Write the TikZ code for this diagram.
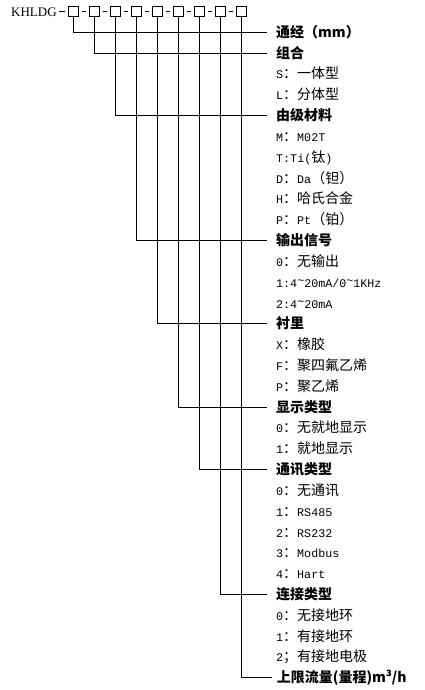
\documentclass[tikz,border=0pt]{standalone}
\usepackage{fontspec}
\setmainfont{Noto Sans CJK SC}
\newfontfamily\latmono{Liberation Mono}
\newfontfamily\latserif{Liberation Serif}
\newcommand{\lt}[1]{{\latmono\fontsize{11.7}{14}\selectfont #1}}
\newcommand{\tld}{\raisebox{3pt}{\textasciitilde}}
\begin{document}
\begin{tikzpicture}[x=1pt,y=-1pt,
  box/.style={draw, line width=0.9pt, minimum size=10pt, inner sep=0pt},
  wire/.style={line width=0.9pt},
  head/.style={anchor=west, inner xsep=9pt, inner ysep=0pt, text height=12pt, text depth=2pt, font=\fontsize{14}{16}\selectfont\bfseries},
  item/.style={anchor=west, inner xsep=0pt, inner ysep=0pt, text height=12pt, text depth=2pt, font=\fontsize{14}{16}\selectfont}]
\useasboundingbox (0,0) rectangle (425,690);

% code line
\node[anchor=base west, inner sep=0pt, font=\latserif\fontsize{13}{15}\selectfont] (k) at (11,17) {KHLDG};
\foreach \i in {1,...,9} \node[box] (b\i) at ({52.2+21*\i},11.7) {};
\draw[wire] ([xshift=2pt]k.east |- b1.west) -- ([xshift=-3pt]b1.west);
\foreach \i [evaluate=\i as \j using int(\i+1)] in {1,...,8}
  \draw[wire] ([xshift=3pt]b\i.east) -- ([xshift=-3pt]b\j.west);

% headers
\node[head] (h1) at (267,32.3) {通经（mm）};
\node[head] (h2) at (267,53.1) {组合};
\node[head] (h3) at (267,115.6) {由级材料};
\node[head] (h4) at (267,240.5) {输出信号};
\node[head] (h5) at (267,323.8) {衬里};
\node[head] (h6) at (267,407.1) {显示类型};
\node[head] (h7) at (267,469.5) {通讯类型};
\node[head] (h8) at (267,594.4) {连接类型};
\node[head, inner xsep=4.7pt] (h9) at (272,677.7) {上限流量(量程)m³/h};

\foreach \i in {1,...,9} \draw[wire] (b\i.south) |- (h\i.west);

% items
\node[item] (s1) at (276,73.9) {\lt{S}：一体型};
\node[item] (s2) at (276,94.8) {\lt{L}：分体型};
\node[item] (m1) at (276,136.4) {\lt{M}：\lt{M02T}};
\node[item] (m2) at (276,157.2) {\lt{T:Ti(}钛\lt{)}};
\node[item] (m3) at (276,178.0) {\lt{D}：\lt{Da}（钽）};
\node[item] (m4) at (276,198.9) {\lt{H}：哈氏合金};
\node[item] (m5) at (276,219.7) {\lt{P}：\lt{Pt}（铂）};
\node[item] (o1) at (276,261.3) {\lt{0}：无输出};
\node[item] (o2) at (276,282.1) {\lt{1:4\tld20mA/0\tld1KHz}};
\node[item] (o3) at (276,303.0) {\lt{2:4\tld20mA}};
\node[item] (l1) at (276,344.6) {\lt{X}：橡胶};
\node[item] (l2) at (276,365.4) {\lt{F}：聚四氟乙烯};
\node[item] (l3) at (276,386.2) {\lt{P}：聚乙烯};
\node[item] (d1) at (276,427.9) {\lt{0}：无就地显示};
\node[item] (d2) at (276,448.7) {\lt{1}：就地显示};
\node[item] (c1) at (276,490.3) {\lt{0}：无通讯};
\node[item] (c2) at (276,511.2) {\lt{1}：\lt{RS485}};
\node[item] (c3) at (276,532.0) {\lt{2}：\lt{RS232}};
\node[item] (c4) at (276,552.8) {\lt{3}：\lt{Modbus}};
\node[item] (c5) at (276,573.6) {\lt{4}：\lt{Hart}};
\node[item] (g1) at (276,615.3) {\lt{0}：无接地环};
\node[item] (g2) at (276,636.1) {\lt{1}：有接地环};
\node[item] (g3) at (276,656.9) {\lt{2}；有接地电极};
\end{tikzpicture}
\end{document}
